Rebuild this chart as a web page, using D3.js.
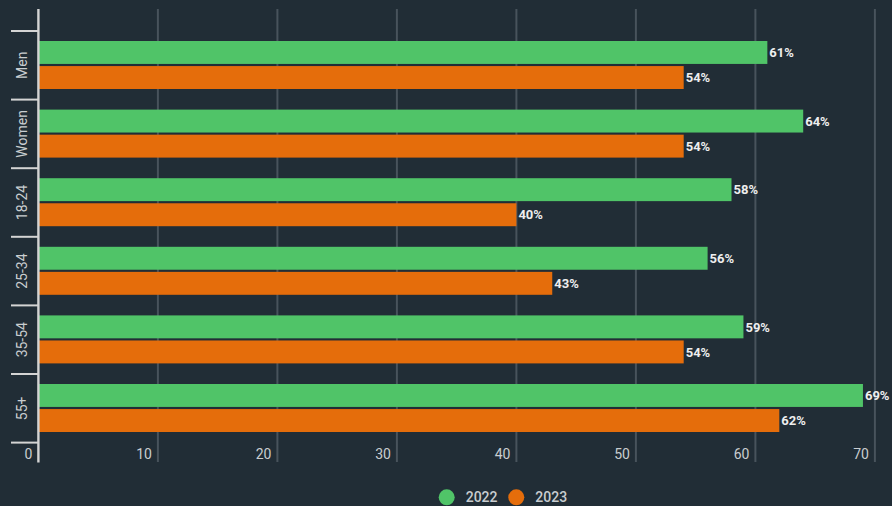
<!DOCTYPE html>
<html>
<head>
<meta charset="utf-8">
<script src="https://cdn.jsdelivr.net/npm/d3@7"></script>
<style>
  body { margin: 0; background: #212d36; }
  svg { display: block; font-family: Roboto, "Noto Sans", sans-serif; }
</style>
</head>
<body>
<svg id="chart" width="892" height="506"></svg>
<script>
// categories and series values (percent)
var categories = ["Men", "Women", "18-24", "25-34", "35-54", "55+"];
var series = ["2022", "2023"];
var values2022 = [61, 64, 58, 56, 59, 69];
var values2023 = [54, 54, 40, 43, 54, 62];
var xTicks = [0, 10, 20, 30, 40, 50, 60, 70];
var colors = ["#50c468", "#e56d0b"];

var svg = d3.select("#chart");

// plot area
var plotLeft = 38.4, plotTop = 31, plotBottom = 442.6;
var x = d3.scaleLinear().domain([0, 70]).range([plotLeft, plotLeft + 836.5]);
var y = d3.scaleBand().domain(categories).range([plotTop, plotBottom]);
var inner = d3.scaleBand().domain(series).range([10, y.bandwidth() - 10.6]).paddingInner(0.085);

// vertical gridlines
svg.append("g").selectAll("line")
    .data(xTicks.slice(1))
    .enter().append("line")
    .attr("x1", function(d) { return x(d); })
    .attr("x2", function(d) { return x(d); })
    .attr("y1", 9)
    .attr("y2", 462)
    .attr("stroke", "#48535c")
    .attr("stroke-width", 2);

// x tick labels
svg.append("g").selectAll("text")
    .data(xTicks)
    .enter().append("text")
    .attr("x", function(d) { return x(d) - 6; })
    .attr("y", 459)
    .attr("text-anchor", "end")
    .attr("fill", "#c9cdd0")
    .attr("font-size", 14)
    .text(function(d) { return d; });

// bars
var groups = svg.append("g").selectAll("g")
    .data(categories)
    .enter().append("g")
    .attr("transform", function(d) { return "translate(0," + y(d) + ")"; });

var rows = groups.selectAll("g")
    .data(function(d, i) {
        return [
            { key: "2022", value: values2022[i] },
            { key: "2023", value: values2023[i] }
        ];
    })
    .enter().append("g");

rows.append("rect")
    .attr("x", x(0))
    .attr("y", function(d) { return inner(d.key); })
    .attr("width", function(d) { return x(d.value) - x(0); })
    .attr("height", inner.bandwidth())
    .attr("fill", function(d, i) { return colors[i]; });

rows.append("text")
    .attr("x", function(d) { return x(d.value) + 2; })
    .attr("y", function(d) { return inner(d.key) + inner.bandwidth() / 2; })
    .attr("dy", "0.36em")
    .attr("fill", "#eeeeee")
    .attr("font-size", 13)
    .attr("font-weight", "bold")
    .text(function(d) { return d.value + "%"; });

// category labels, rotated
svg.append("g").selectAll("text")
    .data(categories)
    .enter().append("text")
    .attr("transform", function(d) {
        return "translate(27," + (y(d) + y.bandwidth() / 2) + ") rotate(-90)";
    })
    .attr("text-anchor", "middle")
    .attr("fill", "#c9cdd0")
    .attr("font-size", 14)
    .text(function(d) { return d; });

// category tick marks
svg.append("g").selectAll("line")
    .data(y.range().concat(categories.slice(1).map(function(d) { return y(d); })))
    .enter().append("line")
    .attr("x1", 11)
    .attr("x2", plotLeft)
    .attr("y1", function(d) { return d; })
    .attr("y2", function(d) { return d; })
    .attr("stroke", "#d4d4d4")
    .attr("stroke-width", 2);

// y axis line
svg.append("line")
    .attr("x1", plotLeft)
    .attr("x2", plotLeft)
    .attr("y1", 9)
    .attr("y2", 462.5)
    .attr("stroke", "#d4d4d4")
    .attr("stroke-width", 2.4);

// legend
var legend = svg.append("g").selectAll("g")
    .data(series)
    .enter().append("g")
    .attr("transform", function(d, i) { return "translate(" + (446.7 + i * 69.6) + ",497.3)"; });

legend.append("circle")
    .attr("r", 8)
    .attr("fill", function(d, i) { return colors[i]; });

legend.append("text")
    .attr("x", 19)
    .attr("dy", "0.36em")
    .attr("fill", "#c9cdd0")
    .attr("font-size", 14)
    .attr("font-weight", 500)
    .text(function(d) { return d; });
</script>
</body>
</html>
